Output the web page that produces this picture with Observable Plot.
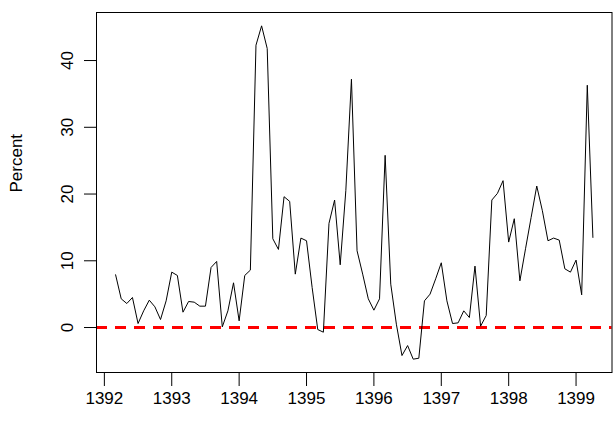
<!DOCTYPE html>
<html><head><meta charset="utf-8">
<script src="https://cdn.jsdelivr.net/npm/d3@7"></script>
<script src="https://cdn.jsdelivr.net/npm/@observablehq/plot@0.6"></script>
<style>body{margin:0;background:#fff;overflow:hidden;}</style>
</head><body><div id="chart"></div>
<script>
// Monthly series, starting at month 3 of 1392
const startYear = 1392;
const startMonth = 3;
const values = [
  7.9, 4.3, 3.6, 4.5, 0.6, 2.5, 4.1, 3.1, 1.2, 4.0,
  8.3, 7.8, 2.3, 3.9, 3.8, 3.2, 3.2, 9.0, 9.9, 0.1,
  2.5, 6.7, 1.0, 7.8, 8.6, 42.3, 45.2, 41.8, 13.3, 11.7,
  19.6, 18.9, 8.0, 13.4, 13.0, 6.0, -0.3, -0.7, 15.6, 19.1,
  9.4, 20.5, 37.2, 11.5, 8.0, 4.3, 2.6, 4.3, 25.8, 6.5,
  0.5, -4.2, -2.7, -4.74, -4.6, 4.0, 5.0, 7.3, 9.7, 4.0,
  0.6, 0.7, 2.5, 1.5, 9.2, 0.2, 1.8, 19.1, 20.1, 22.0,
  12.8, 16.3, 7.0, 11.8, 16.5, 21.2, 17.5, 13.0, 13.4, 13.1,
  8.8, 8.3, 10.1, 4.9, 36.3, 13.5
];
const xTicks = [1392, 1393, 1394, 1395, 1396, 1397, 1398, 1399];
const yTicks = [0, 10, 20, 30, 40];
const refLine = [0];
const yLabel = "Percent";

const data = values.map((v, i) => ({t: startYear + (startMonth - 1 + i) / 12, v}));
const t0 = data[0].t, t1 = data[data.length - 1].t;
const vmin = d3.min(values), vmax = d3.max(values);
const px = 0.04 * (t1 - t0), py = 0.04 * (vmax - vmin);

const chart = Plot.plot({
  width: 613,
  height: 425,
  marginLeft: 96,
  marginRight: 1.5,
  marginTop: 12,
  marginBottom: 53,
  x: {domain: [t0 - px, t1 + px]},
  y: {domain: [vmin - py, vmax + py]},
  style: {fontFamily: "'Liberation Sans', Arial, sans-serif", fontSize: "17px", color: "#000", background: "#fff"},
  marks: [
    Plot.ruleY(refLine, {stroke: "#ff0000", strokeWidth: 3, strokeDasharray: "11,8"}),
    Plot.lineY(data, {x: "t", y: "v", stroke: "#000", strokeWidth: 1}),
    Plot.frame({stroke: "#000", strokeWidth: 1}),
    Plot.axisX({ticks: xTicks, tickFormat: d => String(d), tickSize: 14, tickPadding: 5, label: null, fontSize: 17}),
    Plot.axisY({ticks: yTicks, tickSize: 12, tickRotate: -90, tickPadding: 12, label: null, fontSize: 17}),
    Plot.text([yLabel], {frameAnchor: "left", dx: -80, rotate: -90, fontSize: 17, text: d => d})
  ]
});
document.getElementById("chart").appendChild(chart);
</script>
</body></html>
